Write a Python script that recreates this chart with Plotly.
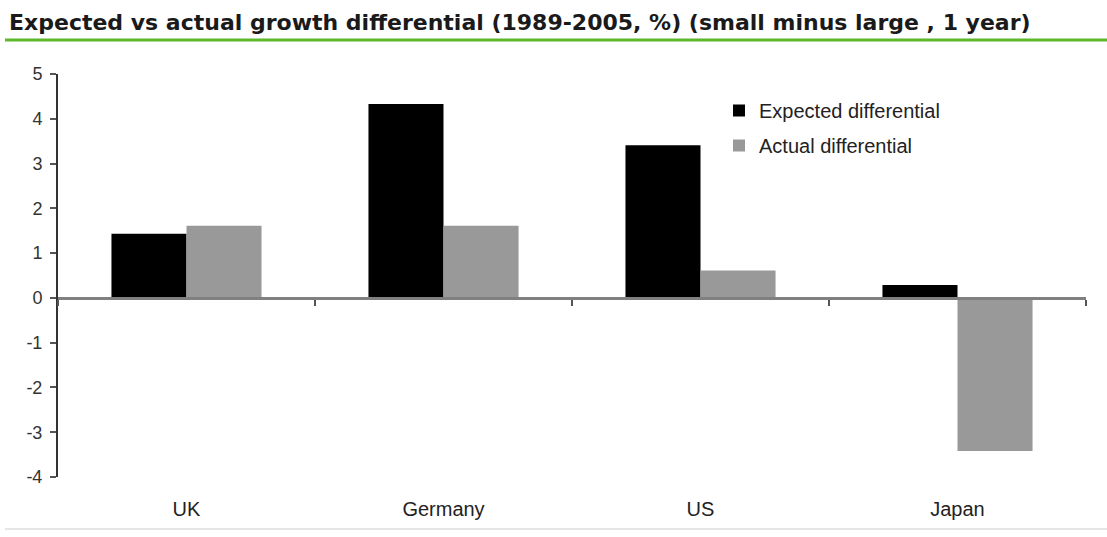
import plotly.graph_objects as go

# Growth differential, small minus large caps, 1989-2005 (%)
countries = ["UK", "Germany", "US", "Japan"]
expected_diff = [1.43, 4.33, 3.41, 0.29]
actual_diff = [1.61, 1.61, 0.61, -3.42]
y_ticks = [5, 4, 3, 2, 1, 0, -1, -2, -3, -4]

W, H = 1107, 537
L, R, T, B = 58, 21, 74, 60
plot_w = W - L - R
plot_h = H - T - B

FONT = "Liberation Sans, Arial, sans-serif"

fig = go.Figure()
fig.add_trace(go.Bar(
    name="Expected differential", x=countries, y=expected_diff,
    marker=dict(color="#000000", line=dict(width=0)),
    legendgroup="a",
))
fig.add_trace(go.Bar(
    name="Actual differential", x=countries, y=actual_diff,
    marker=dict(color="#999999", line=dict(width=0)),
    legendgroup="b",
))
# carrier for the category axis drawn along y = 0
fig.add_trace(go.Scatter(
    x=countries, y=[0] * len(countries), xaxis="x2", mode="none",
    showlegend=False, hoverinfo="skip",
))


def px_x(p):
    return (p - L) / plot_w


def px_y(p):
    return 1 - (p - T) / plot_h


fig.update_layout(
    width=W, height=H,
    margin=dict(l=L, r=R, t=T, b=B),
    paper_bgcolor="white", plot_bgcolor="white",
    font=dict(family=FONT, size=18, color="#222222"),
    barmode="group", bargap=0.416, bargroupgap=0,
    title=dict(
        text="<b>Expected vs actual growth differential (1989-2005, %) (small minus large , 1 year)</b>",
        font=dict(family="DejaVu Sans, sans-serif", size=22, color="#1a1a1a"),
        xref="container", yref="container",
        x=9 / W, xanchor="left", y=1 - 22 / H, yanchor="middle",
    ),
    showlegend=True,
    legend=dict(
        x=px_x(719), y=px_y(91), xanchor="left", yanchor="top",
        bgcolor="rgba(0,0,0,0)", traceorder="grouped", tracegroupgap=6,
        font=dict(family=FONT, size=20, color="#222222"),
    ),
    xaxis=dict(
        type="category", categoryarray=countries, range=[-0.5, 3.5],
        showline=False, ticks="", showgrid=False, zeroline=False,
        tickfont=dict(family=FONT, size=20, color="#222222"),
        ticklabelstandoff=18,
    ),
    xaxis2=dict(
        type="category", categoryarray=countries,
        overlaying="x", anchor="free", position=4 / 9,
        range=[-0.5, 3.5], tickson="boundaries",
        showticklabels=False, showgrid=False, zeroline=False,
        showline=True, linecolor="#808080", linewidth=3,
        ticks="outside", ticklen=6, tickwidth=2, tickcolor="#555555",
    ),
    yaxis=dict(
        range=[-4, 5], tickvals=y_ticks, ticktext=[str(v) for v in y_ticks],
        showgrid=False, zeroline=False,
        showline=True, linecolor="#333333", linewidth=2,
        ticks="outside", ticklen=6, tickwidth=2, tickcolor="#555555",
        tickfont=dict(family=FONT, size=18, color="#333333"),
        ticklabelstandoff=4,
    ),
    shapes=[
        dict(type="line", xref="paper", yref="paper",
             x0=px_x(5), x1=px_x(W), y0=px_y(40), y1=px_y(40),
             line=dict(color="#5cb82a", width=3)),
        dict(type="line", xref="paper", yref="paper",
             x0=px_x(5), x1=px_x(W), y0=px_y(529), y1=px_y(529),
             line=dict(color="#cccccc", width=1)),
    ],
)

fig.write_html("out.html")
